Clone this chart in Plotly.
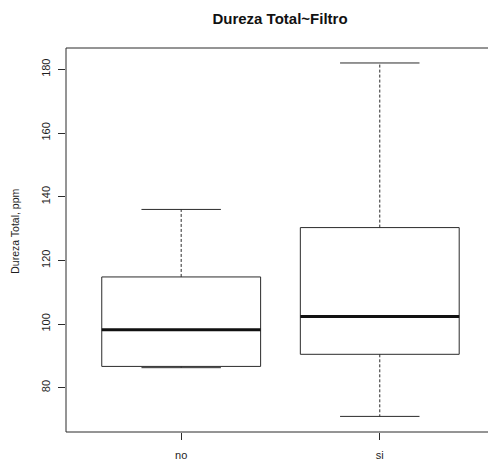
import plotly.graph_objects as go

# Five-number summaries for Dureza Total by Filtro
groups = ["no", "si"]
lower_whisker = [86.3, 71.0]
q1 = [86.7, 90.5]
median = [98.2, 102.4]
q3 = [114.8, 130.3]
upper_whisker = [136.0, 182.0]

y_ticks = [80, 100, 120, 140, 160, 180]

LINE = "#2b2b2b"
TEXT = "#1e1e1e"
BOX_HALF = 0.4   # boxwex 0.8
CAP_HALF = 0.2   # staple half width

fig = go.Figure()

for i, g in enumerate(groups):
    p = i + 1
    # box outline
    fig.add_trace(go.Scatter(
        x=[p - BOX_HALF, p + BOX_HALF, p + BOX_HALF, p - BOX_HALF, p - BOX_HALF],
        y=[q1[i], q1[i], q3[i], q3[i], q1[i]],
        mode="lines", line=dict(color=LINE, width=1), hoverinfo="skip"))
    # dashed whiskers
    fig.add_trace(go.Scatter(
        x=[p, p, None, p, p],
        y=[q3[i], upper_whisker[i], None, q1[i], lower_whisker[i]],
        mode="lines", line=dict(color=LINE, width=1, dash="3px,2px"),
        hoverinfo="skip"))
    # whisker caps
    fig.add_trace(go.Scatter(
        x=[p - CAP_HALF, p + CAP_HALF, None, p - CAP_HALF, p + CAP_HALF],
        y=[upper_whisker[i], upper_whisker[i], None, lower_whisker[i], lower_whisker[i]],
        mode="lines", line=dict(color=LINE, width=1), hoverinfo="skip"))
    # median
    fig.add_trace(go.Scatter(
        x=[p - BOX_HALF, p + BOX_HALF], y=[median[i], median[i]],
        mode="lines", line=dict(color="#111111", width=3), hoverinfo="skip"))

font = "Liberation Sans, Arial, Helvetica, sans-serif"

fig.update_layout(
    template="none",
    width=488, height=463,
    margin=dict(l=66, r=0, t=48, b=31),
    paper_bgcolor="white", plot_bgcolor="white",
    showlegend=False,
    font=dict(family=font, size=11, color=TEXT),
    title=dict(text="<b>Dureza Total~Filtro</b>", font=dict(size=15, color="#111111", family=font),
               x=280 / 488, xref="container", xanchor="center",
               y=1 - 19 / 463, yref="container", yanchor="middle"),
    xaxis=dict(range=[0.42, 2.545], tickvals=[1, 2], ticktext=groups,
               showgrid=False, zeroline=False, showline=False,
               ticks="outside", ticklen=7, tickcolor=LINE, tickwidth=1,
               ticklabelstandoff=6, tickfont=dict(size=11, color=TEXT, family=font)),
    yaxis=dict(range=[66.1, 186.7], tickvals=y_ticks,
               ticktext=[str(v) for v in y_ticks], tickangle=-90,
               showgrid=False, zeroline=False, showline=False,
               ticks="outside", ticklen=7, tickcolor=LINE, tickwidth=1,
               ticklabelstandoff=4, tickfont=dict(size=11, color=TEXT, family=font)),
    shapes=[dict(type="rect", xref="paper", yref="paper", x0=0, x1=1.2, y0=0, y1=1,
                 line=dict(color=LINE, width=1), fillcolor="rgba(0,0,0,0)", layer="above")],
    annotations=[dict(text="Dureza Total, ppm", textangle=-90, showarrow=False,
                      xref="paper", yref="paper", x=(15.5 - 66) / 422, y=(432 - 231) / 384.5,
                      xanchor="center", yanchor="middle",
                      font=dict(size=10.5, color=TEXT, family=font))],
)

fig.write_html("out.html")
